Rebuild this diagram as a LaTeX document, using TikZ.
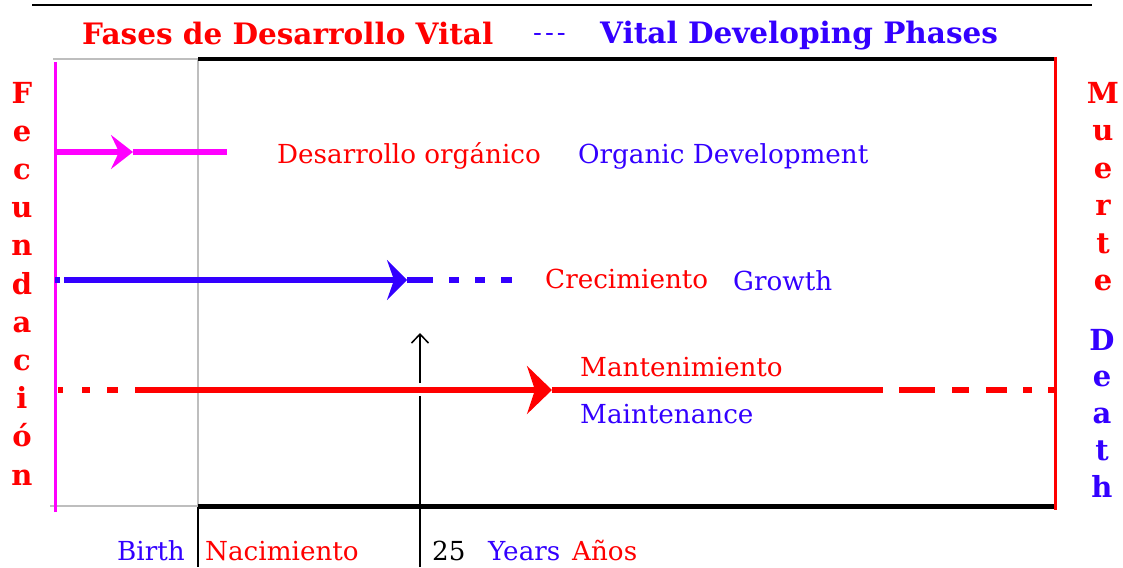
\documentclass[tikz,border=0pt]{standalone}
\usepackage{fontspec}
\setmainfont{DejaVu Serif}
\usepackage{xcolor}
\usetikzlibrary{arrows.meta,positioning}
\definecolor{vred}{RGB}{255,0,0}
\definecolor{vblue}{RGB}{51,0,255}
\definecolor{vmag}{RGB}{255,0,255}
\definecolor{vgray}{RGB}{190,190,190}
\tikzstyle{ttl}=[inner sep=0pt,anchor=base west,% headline
font=\fontsize{29.5}{31}\selectfont\bfseries]
\tikzstyle{txt}=[inner sep=0pt,anchor=base west,font=\fontsize{26.2}{28}\selectfont]
\tikzstyle{vlet}=[inner sep=0pt,anchor=base,font=\fontsize{29}{31}\selectfont\bfseries]
\tikzstyle{phase}=[line width=6pt]
\tikzstyle{frame}=[line width=4pt]
\tikzstyle{tick}=[line width=1.5pt]

\begin{document}
\begin{tikzpicture}[x=1pt,y=-1pt]
\useasboundingbox (0,0) rectangle (1123,567);
\draw[line width=2pt] (32,5) -- (1092,5);
\node[ttl,text=vred] (tes) at (82,45) {Fases de Desarrollo Vital};
\node[txt,text=vblue] (tsep) at (533,42) {-\kern3pt-\kern3pt-};
\node[ttl,text=vblue] (ten) at (600,44) {Vital Developing Phases};
% frame: before birth in gray, life span in black
\coordinate (gtl) at (53,59);
\coordinate (btl) at (198,59);
\coordinate (btr) at (1055,59);
\coordinate (bbl) at (198,506);
\coordinate (bbr) at (1055,506);
\coordinate (gbl) at (50,506);
\coordinate (bb0) at (198,567);
\coordinate (mtop) at (1055,57);
\coordinate (mbot) at (1055,510);
\coordinate (ftop) at (55,62);
\coordinate (fbot) at (55,512);
\coordinate (y0) at (420,567);
\coordinate (y1) at (420,396);
\coordinate (y2) at (420,383);
\coordinate (y3) at (420,333);
\draw[tick] (bbl) -- (bb0);
\draw[tick] (y0) -- (y1);
\draw[tick,-{Straight Barb[length=9pt,width=17pt]}] (y2) -- (y3);
\draw[vgray,line width=2pt] (gtl) -- (btl) -- (bbl) -- (gbl);
\draw[frame] (btl) -- (btr);
\draw[frame,line width=5pt] (bbl) -- (bbr);
\draw[vred,line width=3pt] (mtop) -- (mbot);
\draw[vmag,line width=3pt] (ftop) -- (fbot);
% phases
\coordinate (o0) at (55,152);
\coordinate (o1) at (133,152);
\coordinate (o2) at (227,152);
\draw[phase,vmag,-{Stealth[length=22pt,width=34pt,inset=8pt]}] (o0) -- (o1);
\draw[phase,vmag] (o1) -- (o2);
\coordinate (g0) at (55,280);
\coordinate (g1) at (407,280);
\coordinate (g2) at (513,280);
\draw[phase,vblue,dash pattern=on 5pt off 4pt on 1000pt off 0pt,-{Stealth[length=20pt,width=40pt,inset=7pt]}] (g0) -- (g1);
\draw[phase,vblue,dash pattern=on 26pt off 16pt on 10pt off 16pt on 10pt off 16pt on 11pt off 100pt] (g1) -- (g2);
\coordinate (m0) at (58,390);
\coordinate (m1) at (552,390);
\coordinate (m2) at (1055,390);
\draw[phase,vred,line width=6.5pt,dash pattern=on 5pt off 19pt on 8pt off 17pt on 11pt off 17pt on 1000pt off 0pt,-{Stealth[length=25pt,width=48pt,inset=8pt]}] (m0) -- (m1);
\draw[phase,vred,line width=6.5pt,dash pattern=on 331pt off 16pt on 36pt off 17pt on 17pt off 17pt on 21pt off 16pt on 9pt off 16pt on 7pt off 100pt] (m1) -- (m2);
\node[txt,text=vred] (dorg) at (277,163) {Desarrollo orgánico};
\node[txt,text=vblue] (eorg) at (578,163) {Organic Development};
\node[txt,text=vred] (dcre) at (545,288) {Crecimiento};
\node[txt,text=vblue] (ecre) at (733,290) {Growth};
\node[txt,text=vred] (dman) at (580,376) {Mantenimiento};
\node[txt,text=vblue] (eman) at (580,423) {Maintenance};
\node[txt,text=vblue] (ebir) at (117,560) {Birth};
\node[txt,text=vred] (dbir) at (205,560) {Nacimiento};
\node[txt] (n25) at (432,560) {25};
\node[txt,text=vblue] (eyr) at (488,560) {Years};
\node[txt,text=vred] (dyr) at (572,560) {Años};
% side words, one letter a line
\foreach \c [count=\i from 0] in {F,e,c,u,n,d,a,c,i,ó,n}
  \node[vlet,text=vred] (fec\i) at (22,103+38.2*\i) {\c};
\foreach \c [count=\i from 0] in {M,u,e,r,t,e}
  \node[vlet,text=vred] (mue\i) at (1103,103+37.5*\i) {\c};
\foreach \c [count=\i from 0] in {D,e,a,t,h}
  \node[vlet,text=vblue] (dea\i) at (1102,350+36.75*\i) {\c};
\end{tikzpicture}
\end{document}
